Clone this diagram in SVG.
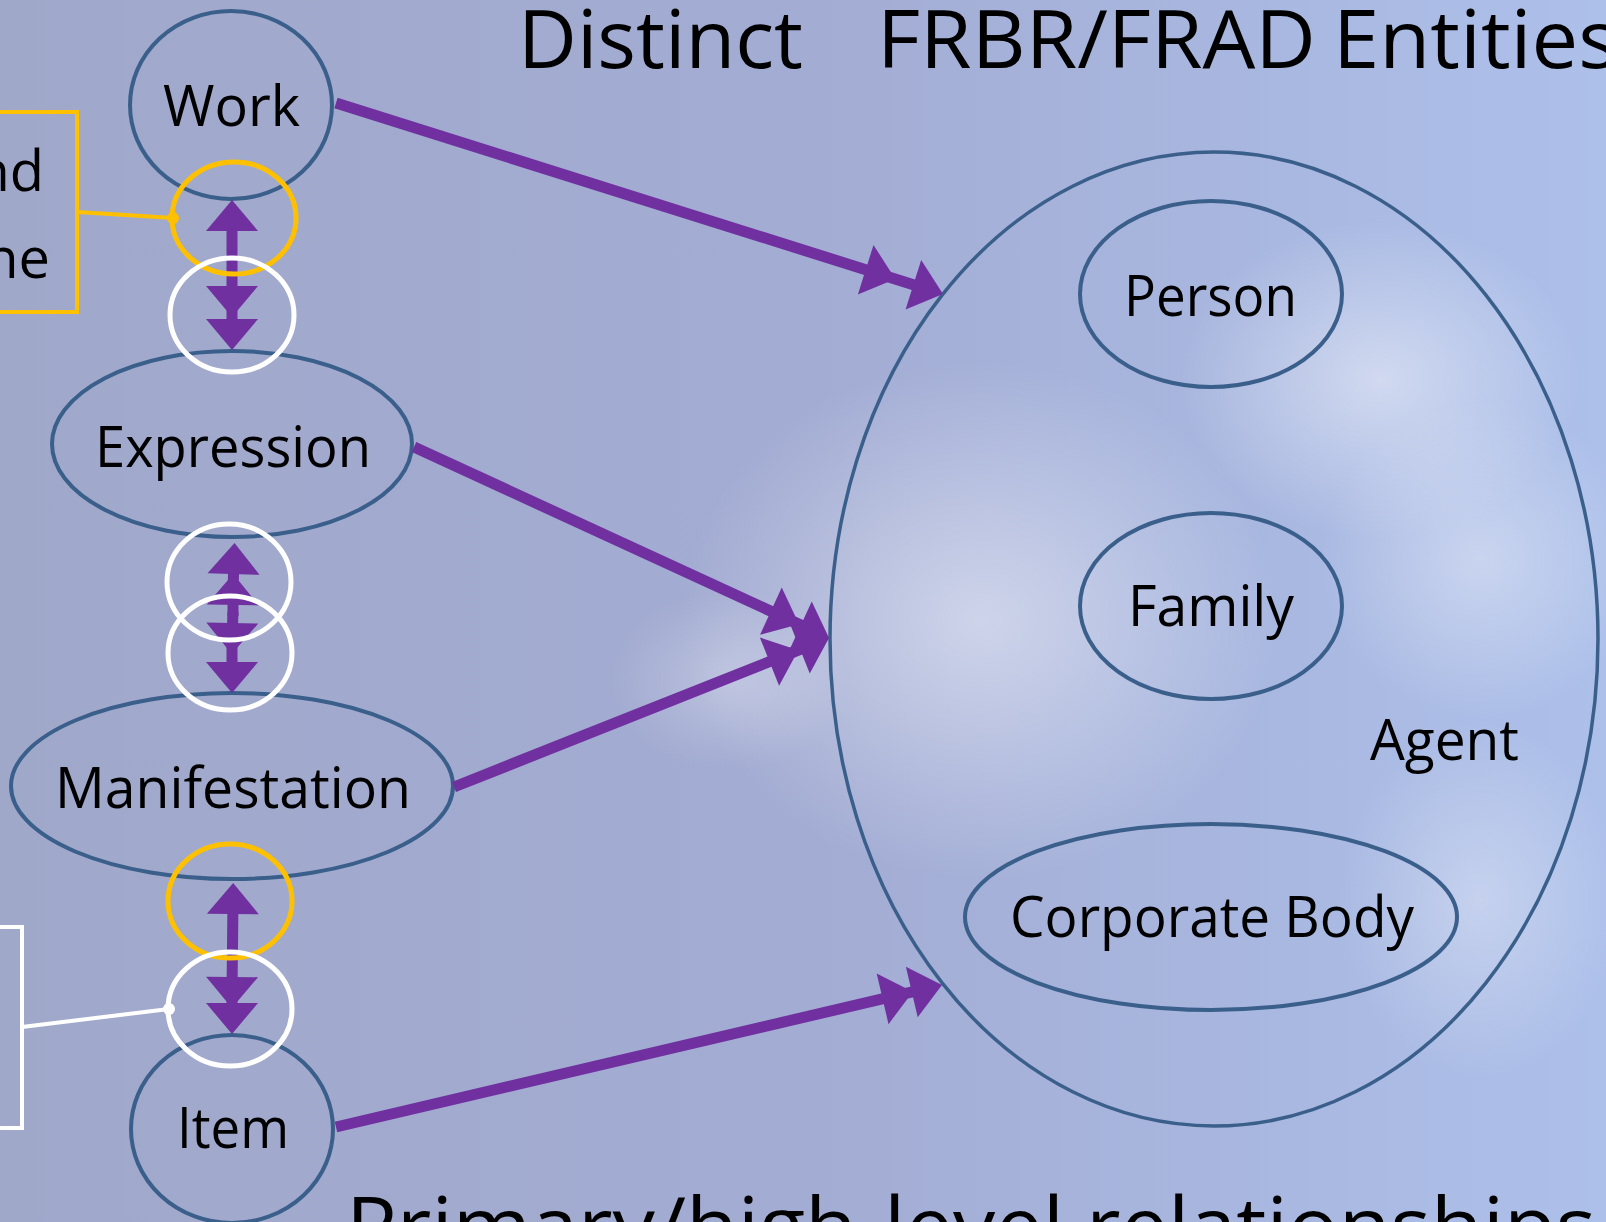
<svg xmlns="http://www.w3.org/2000/svg" width="1606" height="1222" viewBox="0 0 1606 1222">
<style>
.lbl{font-family:"Open Sans","Liberation Sans",sans-serif;font-size:56px;fill:#000}
.ttl{font-family:"Open Sans","Liberation Sans",sans-serif;font-size:80px;fill:#000}
.node{fill:none;stroke:#3b5f8b;stroke-width:4}
.conn{fill:none;stroke:#7030a0;stroke-width:11}
.ring{fill:none;stroke-width:5}
</style>
<defs>
<linearGradient id="bg" x1="0" y1="0" x2="1" y2="0">
<stop offset="0" stop-color="#a0a8ca"/>
<stop offset="0.5" stop-color="#a3acd3"/>
<stop offset="1" stop-color="#adc0ea"/>
</linearGradient>
<radialGradient id="glow">
<stop offset="0" stop-color="#ffffff" stop-opacity="0.45"/>
<stop offset="1" stop-color="#ffffff" stop-opacity="0"/>
</radialGradient>
<marker id="head" viewBox="0 -26 31 52" refX="15" refY="0" markerWidth="31" markerHeight="52" markerUnits="userSpaceOnUse" orient="auto-start-reverse" overflow="visible">
<path d="M0,-26 L31,0 L0,26 Z" fill="#7030a0"/>
</marker>
</defs>
<rect width="1606" height="1222" fill="url(#bg)"/>
<ellipse cx="980" cy="620" rx="300" ry="260" fill="url(#glow)"/>
<ellipse cx="1380" cy="380" rx="200" ry="160" fill="url(#glow)"/>
<ellipse cx="1480" cy="560" rx="160" ry="160" fill="url(#glow)" opacity="0.8"/>
<ellipse cx="1480" cy="900" rx="140" ry="180" fill="url(#glow)" opacity="0.7"/>
<ellipse cx="730" cy="680" rx="120" ry="90" fill="url(#glow)" opacity="0.6"/>

<text class="ttl" y="68"><tspan x="518" textLength="285" lengthAdjust="spacingAndGlyphs">Distinct</tspan> <tspan x="877" textLength="439" lengthAdjust="spacingAndGlyphs">FRBR/FRAD</tspan> <tspan x="1333" textLength="285" lengthAdjust="spacingAndGlyphs">Entities</tspan></text>
<text class="ttl" x="346" y="1255" textLength="1250" lengthAdjust="spacingAndGlyphs">Primary/high-level relationships</text>

<g id="agent">
<ellipse cx="1214" cy="639" rx="384" ry="487" fill="none" stroke="#3b5f8b" stroke-width="3.5"/>
<text class="lbl" x="1370" y="760" textLength="149" lengthAdjust="spacingAndGlyphs">Agent</text>
</g>
<g id="person">
<ellipse class="node" cx="1211" cy="294" rx="131" ry="93"/>
<text class="lbl" x="1124" y="316" textLength="173" lengthAdjust="spacingAndGlyphs">Person</text>
</g>
<g id="family">
<ellipse class="node" cx="1211" cy="606" rx="131" ry="93"/>
<text class="lbl" x="1128" y="626" textLength="166" lengthAdjust="spacingAndGlyphs">Family</text>
</g>
<g id="corporate-body">
<ellipse class="node" cx="1211" cy="917" rx="246" ry="93"/>
<text class="lbl" x="1010" y="937" textLength="404" lengthAdjust="spacingAndGlyphs">Corporate Body</text>
</g>

<g id="work">
<ellipse class="node" cx="231" cy="105" rx="101" ry="94"/>
<text class="lbl" x="163" y="126" textLength="137" lengthAdjust="spacingAndGlyphs">Work</text>
</g>
<g id="expression">
<ellipse class="node" cx="232" cy="444" rx="180" ry="93"/>
<text class="lbl" x="95" y="467" textLength="276" lengthAdjust="spacingAndGlyphs">Expression</text>
</g>
<g id="manifestation">
<ellipse class="node" cx="232" cy="786" rx="221" ry="93"/>
<text class="lbl" x="55" y="808" textLength="356" lengthAdjust="spacingAndGlyphs">Manifestation</text>
</g>
<g id="item">
<ellipse class="node" cx="232" cy="1129" rx="101" ry="94"/>
<text class="lbl" x="177" y="1148" textLength="112" lengthAdjust="spacingAndGlyphs">Item</text>
</g>

<g id="connectors">
<path class="conn" d="M336,103 L880,274.2 L927.7,289.2" marker-mid="url(#head)" marker-end="url(#head)"/>
<path class="conn" d="M414,447 L784.5,617.5 L814.5,631.3" marker-mid="url(#head)" marker-end="url(#head)"/>
<path class="conn" d="M454,787 L783.4,656.1 L814.1,643.9" marker-mid="url(#head)" marker-end="url(#head)"/>
<path class="conn" d="M336,1127 L897.2,995.4 L926.4,988.6" marker-mid="url(#head)" marker-end="url(#head)"/>
<path class="conn" d="M232,216 L232,301 L232,334" marker-start="url(#head)" marker-mid="url(#head)" marker-end="url(#head)"/>
<path class="conn" d="M233,616 L233,590 L234,559" marker-mid="url(#head)" marker-end="url(#head)"/>
<path class="conn" d="M233,612 L232,638 L232,677" marker-mid="url(#head)" marker-end="url(#head)"/>
<path class="conn" d="M233,899 L232,992 L232,1018" marker-start="url(#head)" marker-mid="url(#head)" marker-end="url(#head)"/>
</g>

<g id="highlights">
<ellipse class="ring" cx="234" cy="218" rx="62" ry="56" stroke="#ffc000"/>
<ellipse class="ring" cx="232" cy="315" rx="62" ry="57" stroke="#ffffff"/>
<ellipse class="ring" cx="229" cy="582" rx="62" ry="58" stroke="#ffffff"/>
<ellipse class="ring" cx="230" cy="653" rx="62" ry="57" stroke="#ffffff"/>
<ellipse class="ring" cx="230" cy="901" rx="62" ry="57" stroke="#ffc000"/>
<ellipse class="ring" cx="230" cy="1009" rx="62" ry="57" stroke="#ffffff"/>
</g>

<g id="callout-top">
<rect x="-20" y="112" width="97" height="200" fill="none" stroke="#ffc000" stroke-width="4"/>
<text class="lbl" x="44" y="191" text-anchor="end">nd</text>
<text class="lbl" x="50" y="278" text-anchor="end">ne</text>
<line x1="77" y1="212" x2="173" y2="218" stroke="#ffc000" stroke-width="4"/>
<circle cx="173" cy="218" r="6" fill="#ffc000"/>
</g>
<g id="callout-bottom">
<rect x="-20" y="927" width="42" height="201" fill="none" stroke="#ffffff" stroke-width="4"/>
<line x1="22" y1="1027" x2="169" y2="1009" stroke="#ffffff" stroke-width="4"/>
<circle cx="169" cy="1009" r="6" fill="#ffffff"/>
</g>
</svg>
